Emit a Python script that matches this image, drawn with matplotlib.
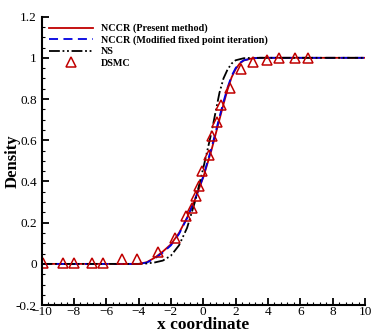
import matplotlib
matplotlib.use("Agg")
import matplotlib.pyplot as plt
from matplotlib.ticker import MultipleLocator

plt.rcParams["font.family"] = ["Liberation Serif", "DejaVu Serif"]

# NCCR (present method)
x_nccr = [-10, -4.0, -3.5, -3.0, -2.5, -2.0, -1.5, -1.0, -0.5, 0.0, 0.5, 1.0, 1.25, 1.5, 1.75, 2.0, 2.25, 2.5, 3.0, 3.5, 10]
rho_nccr = [0.0, 0.0, 0.008, 0.03, 0.06, 0.095, 0.15, 0.225, 0.315, 0.42, 0.55, 0.70, 0.775, 0.845, 0.905, 0.945, 0.972, 0.987, 0.997, 1.0, 1.0]

# NCCR (modified fixed point iteration)
x_mfp = [-10, -4.0, -3.5, -3.0, -2.5, -2.0, -1.5, -1.0, -0.5, 0.0, 0.5, 1.0, 1.25, 1.5, 1.75, 2.0, 2.25, 2.5, 3.0, 3.5, 10]
rho_mfp = [0.0, 0.0, 0.006, 0.026, 0.055, 0.09, 0.145, 0.222, 0.315, 0.425, 0.56, 0.712, 0.787, 0.855, 0.912, 0.95, 0.975, 0.988, 0.997, 1.0, 1.0]

# NS
x_ns = [-10, -4.0, -3.5, -3.0, -2.5, -2.0, -1.5, -1.0, -0.5, 0.0, 0.5, 1.0, 1.25, 1.5, 1.75, 2.0, 2.5, 3.0, 10]
rho_ns = [0.0, 0.0, 0.002, 0.007, 0.016, 0.04, 0.09, 0.175, 0.305, 0.465, 0.635, 0.83, 0.9, 0.943, 0.972, 0.988, 0.998, 1.0, 1.0]

# DSMC
x_dsmc = [-9.9, -8.7, -8.0, -6.9, -6.2, -5.0, -4.1, -2.8, -1.75, -1.07, -0.68, -0.47, -0.27, -0.06,
          0.33, 0.56, 0.83, 1.08, 1.65, 2.33, 3.09, 3.96, 4.7, 5.67, 6.46]
rho_dsmc = [0.005, 0.005, 0.005, 0.005, 0.005, 0.022, 0.022, 0.056, 0.125, 0.23, 0.27, 0.33, 0.38, 0.45,
            0.53, 0.62, 0.69, 0.77, 0.855, 0.944, 0.98, 0.99, 0.998, 1.0, 1.0]

fig = plt.figure(figsize=(3.74, 3.32), dpi=100)
ax = fig.add_axes([0.111, 0.081, 0.865, 0.869])

ax.plot(x_nccr, rho_nccr, color="#c00000", lw=1.3, label="NCCR (Present method)")
ax.plot(x_mfp, rho_mfp, color="#0000e0", lw=1.3, ls=(0, (5, 3)),
        label="NCCR (Modified fixed point iteration)")
ax.plot(x_ns, rho_ns, color="black", lw=1.3, ls=(0, (6, 1.5, 1, 1.5, 1, 1.5)), label="NS")
ax.plot(x_dsmc, rho_dsmc, ls="none", marker="^", ms=6.5, mfc="none", mec="#c00000",
        mew=1.1, label="DSMC")

ax.set_xlim(-10, 10)
ax.set_ylim(-0.2, 1.2)
ax.xaxis.set_major_locator(MultipleLocator(2))
ax.xaxis.set_minor_locator(MultipleLocator(0.4))
ax.yaxis.set_minor_locator(MultipleLocator(0.05))
ax.set_yticks([-0.2, 0, 0.2, 0.4, 0.6, 0.8, 1, 1.2])
ax.set_yticklabels(["-0.2", "0", "0.2", "0.4", "0.6", "0.8", "1", "1.2"])

ax.spines["top"].set_visible(False)
ax.spines["right"].set_visible(False)
ax.spines["left"].set_linewidth(1.5)
ax.spines["bottom"].set_linewidth(1.5)
ax.tick_params(which="major", direction="in", length=5, width=1.3, labelsize=9.5)
ax.tick_params(axis="x", which="major", pad=1)
ax.tick_params(axis="y", which="major", pad=3.5)
ax.tick_params(which="minor", direction="in", length=2.5, width=0.8)

ax.set_xlabel("x coordinate", fontsize=12.5, fontweight="bold")
ax.xaxis.set_label_coords(0.5, -0.042)
ax.set_ylabel("Density", fontsize=12, fontweight="bold")
ax.yaxis.set_label_coords(-0.066, 0.5)

leg = ax.legend(loc="upper left", bbox_to_anchor=(0.0, 1.0), frameon=False,
                prop={"size": 7.3, "weight": "bold"}, handlelength=4.4,
                handletextpad=0.8, labelspacing=0.22, borderaxespad=0.3)

fig.savefig("out.png", dpi=100)
